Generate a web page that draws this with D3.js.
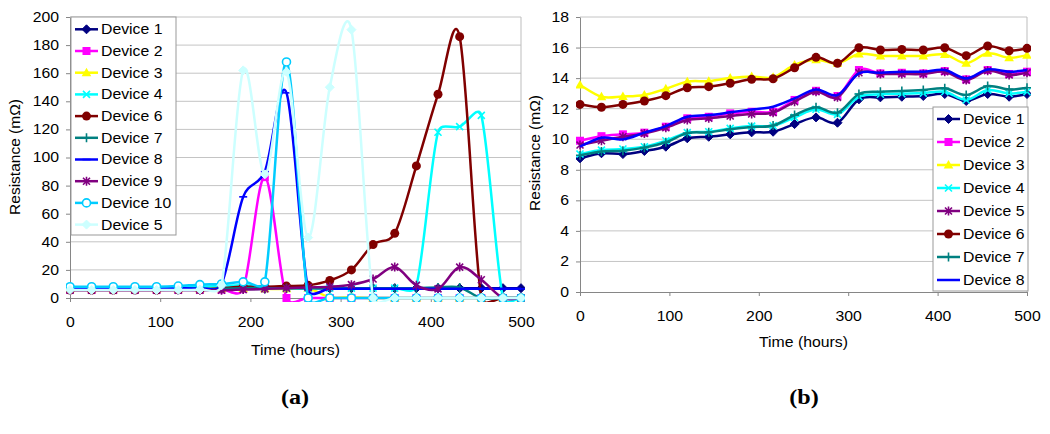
<!DOCTYPE html>
<html>
<head>
<meta charset="utf-8">
<script src="https://cdn.jsdelivr.net/npm/d3@7"></script>
<style>
  html, body { margin: 0; padding: 0; background: #fff; }
  svg { display: block; font-family: 'Liberation Sans', Arial, sans-serif; }
</style>
</head>
<body>
<script>
// sample times (hours), shared by both panels
const hours = [0, 24, 48, 72, 96, 120, 144, 168, 192, 216, 240, 264, 288, 312, 336, 360, 384, 408, 432, 456, 480, 500];

// panel (a) series, in legend order
const namesA = ['Device 1', 'Device 2', 'Device 3', 'Device 4', 'Device 6', 'Device 7', 'Device 8', 'Device 9', 'Device 10', 'Device 5'];
const a1 = [6, 6, 6, 6, 6, 6, 6, 6.5, 6.5, 6.5, 7, 7, 7, 7, 7, 7, 7, 7, 7, 7, 7, 7];
const a2 = [6, 6, 6, 6, 6, 6, 6, 6, 6.5, 86, 0, 0, 0, 0, 0, 0, 0, 0, 0, 0, 0, 0];
const a3 = [6.5, 6.5, 6.5, 6.5, 6.5, 6.5, 6.5, 6.5, 6.5, 6.5, 6.5, 7, 0.5, 0.5, 0, 0, 0, 0, 0, 0, 0, 0];
const a4 = [7, 7, 7, 7, 7, 7.5, 8, 8.5, 9, 8, 7, 7, 7, 7, 7, 7, 9, 118, 122, 130, 0, 0];
const a6 = [5.7, 5.7, 5.7, 5.7, 5.7, 5.8, 6, 7, 8, 8, 8.5, 9, 12.5, 20, 38, 46, 94, 145, 186, 0, 0, 0];
const a7 = [6.5, 6.5, 6.5, 6.5, 6.5, 6.5, 6.5, 6.5, 7, 7, 7, 7, 7, 7, 7, 7, 7, 7.5, 7.5, 0, 0, 0];
const a8 = [7, 7, 7, 7, 7, 7, 7, 10, 72, 90, 146, 6, 6.5, 6.5, 6.5, 6.5, 6.5, 6.5, 6.5, 6.5, 6.5, 6.5];
const a9 = [5.5, 5.5, 5.5, 5.5, 5.5, 5.5, 5.5, 5.5, 6, 6.5, 7, 7.5, 8, 9.5, 13.5, 22, 9, 6.5, 22, 13, 0, 0];
const a10 = [8, 8, 8, 8, 8, 8.5, 9.5, 10, 11.5, 11.5, 168, 0, 0, 0, 0, 0, 0, 0, 0, 0, 0, 0];
const a5 = [5.7, 5.7, 5.7, 5.7, 5.7, 5.7, 6, 9, 162, 88, 161, 43, 150, 191, 0, 0, 0, 0, 0, 0, 0, 0];
const valuesA = [a1, a2, a3, a4, a6, a7, a8, a9, a10, a5];
const ticksYA = [0, 20, 40, 60, 80, 100, 120, 140, 160, 180, 200];

// panel (b) series
const namesB = ['Device 1', 'Device 2', 'Device 3', 'Device 4', 'Device 5', 'Device 6', 'Device 7', 'Device 8'];
const b1 = [8.75, 9.08, 9.03, 9.23, 9.51, 10.06, 10.16, 10.32, 10.45, 10.49, 10.99, 11.43, 11.08, 12.61, 12.74, 12.78, 12.83, 12.96, 12.5, 12.96, 12.78, 12.96];
const b2 = [9.9, 10.2, 10.32, 10.43, 10.82, 11.37, 11.47, 11.69, 11.8, 11.8, 12.57, 13.17, 12.83, 14.53, 14.31, 14.35, 14.31, 14.46, 13.92, 14.53, 14.27, 14.42];
const b3 = [13.55, 12.78, 12.8, 12.9, 13.3, 13.77, 13.8, 14.0, 14.1, 14.05, 14.86, 15.2, 14.97, 15.58, 15.45, 15.45, 15.45, 15.55, 14.97, 15.62, 15.33, 15.5];
const b4 = [9.03, 9.29, 9.36, 9.51, 9.9, 10.43, 10.49, 10.71, 10.86, 10.88, 11.43, 11.96, 11.63, 12.78, 12.94, 12.98, 13.02, 13.11, 12.57, 13.22, 13.0, 13.11];
const b5 = [9.62, 9.9, 10.16, 10.38, 10.75, 11.26, 11.37, 11.52, 11.65, 11.74, 12.45, 13.11, 12.74, 14.35, 14.27, 14.27, 14.27, 14.42, 13.87, 14.48, 14.2, 14.35];
const b6 = [12.28, 12.09, 12.28, 12.5, 12.85, 13.37, 13.44, 13.66, 13.92, 13.96, 14.68, 15.36, 14.97, 15.99, 15.84, 15.88, 15.84, 15.99, 15.47, 16.1, 15.79, 15.95];
const b7 = [8.95, 9.2, 9.25, 9.45, 9.8, 10.4, 10.45, 10.65, 10.8, 10.9, 11.58, 12.09, 11.74, 12.96, 13.11, 13.15, 13.22, 13.33, 12.89, 13.48, 13.26, 13.37];
const b8 = [9.51, 10.1, 9.99, 10.43, 10.86, 11.47, 11.58, 11.76, 11.95, 12.13, 12.67, 13.26, 12.89, 14.31, 14.35, 14.42, 14.42, 14.53, 13.98, 14.57, 14.42, 14.53];
const valuesB = [b1, b2, b3, b4, b5, b6, b7, b8];
const ticksYB = [0, 2, 4, 6, 8, 10, 12, 14, 16, 18];

const ticksX = [0, 100, 200, 300, 400, 500];

// line colour and marker per legend name, per panel
const styleA = {
  'Device 1': ['#000080', 'diamond'],
  'Device 2': ['#ff00ff', 'square'],
  'Device 3': ['#ffff00', 'triangle'],
  'Device 4': ['#00ffff', 'cross'],
  'Device 6': ['#800000', 'circle'],
  'Device 7': ['#008080', 'plus'],
  'Device 8': ['#0000ff', 'dash'],
  'Device 9': ['#800080', 'star'],
  'Device 10': ['#00ccff', 'ring'],
  'Device 5': ['#ccffff', 'diamond']
};
const styleB = {
  'Device 1': ['#000080', 'diamond'],
  'Device 2': ['#ff00ff', 'square'],
  'Device 3': ['#ffff00', 'triangle'],
  'Device 4': ['#00ffff', 'cross'],
  'Device 5': ['#800080', 'star'],
  'Device 6': ['#800000', 'circle'],
  'Device 7': ['#008080', 'plus'],
  'Device 8': ['#0000ff', 'none']
};

const stretch = 1.13;
const svg = d3.select('body').append('svg').attr('width', 1050).attr('height', 434);

// spreadsheet-style smoothed line: bezier arms of 1/6 of the neighbour chord,
// capped at half the current segment
function smoothPath(pts) {
  const p = d3.path();
  const dist = (a, b) => Math.hypot(b[0] - a[0], b[1] - a[1]);
  p.moveTo(pts[0][0], pts[0][1]);
  for (let i = 0; i < pts.length - 1; i++) {
    const p0 = pts[i - 1] || pts[i];
    const p1 = pts[i];
    const p2 = pts[i + 1];
    const p3 = pts[i + 2] || pts[i + 1];
    const d02 = dist(p0, p2), d12 = dist(p1, p2), d13 = dist(p1, p3);
    const f1 = d02 === 0 ? 0 : (d02 / 6 < d12 / 2 ? 1 / 6 : d12 / (2 * d02));
    const f2 = d13 === 0 ? 0 : (d13 / 6 < d12 / 2 ? 1 / 6 : d12 / (2 * d13));
    p.bezierCurveTo(
      p1[0] + (p2[0] - p0[0]) * f1, p1[1] + (p2[1] - p0[1]) * f1,
      p2[0] - (p3[0] - p1[0]) * f2, p2[1] - (p3[1] - p1[1]) * f2,
      p2[0], p2[1]
    );
  }
  return p.toString();
}

function drawMarker(g, type, color) {
  if (type === 'diamond') {
    g.append('path').attr('d', 'M0,-4.5L4.5,0L0,4.5L-4.5,0Z').attr('fill', color).attr('stroke', color);
  } else if (type === 'square') {
    g.append('rect').attr('x', -4).attr('y', -4).attr('width', 8).attr('height', 8).attr('fill', color);
  } else if (type === 'triangle') {
    g.append('path').attr('d', 'M0,-5L4.8,3.5L-4.8,3.5Z').attr('fill', color);
  } else if (type === 'circle') {
    g.append('circle').attr('r', 4.5).attr('fill', color);
  } else if (type === 'ring') {
    g.append('circle').attr('r', 4).attr('fill', '#fff').attr('stroke', color).attr('stroke-width', 1.6);
  } else if (type === 'cross' || type === 'star' || type === 'plus' || type === 'dash') {
    let d = '';
    if (type === 'cross' || type === 'star') d += 'M-3.5,-3.5L3.5,3.5M-3.5,3.5L3.5,-3.5';
    if (type === 'star') d += 'M0,-4.5L0,4.5';
    if (type === 'plus') d += 'M-4.5,0L4.5,0M0,-4.5L0,4.5';
    if (type === 'dash') d += 'M-4,0L4,0';
    g.append('path').attr('d', d).attr('fill', 'none').attr('stroke', color).attr('stroke-width', 1.6);
  }
}

function stretchedText(parent, x, y, str, size, opts = {}) {
  return parent.append('text')
    .attr('transform', `translate(${x},${y}) scale(${opts.sx || stretch},1)`)
    .attr('text-anchor', opts.anchor || 'start')
    .attr('dy', '0.35em')
    .attr('font-size', size)
    .attr('font-weight', opts.weight || 'normal')
    .attr('font-family', opts.family || null)
    .attr('fill', '#000')
    .text(str);
}

function drawPanel(cfg) {
  const x = d3.scaleLinear().domain([0, 500]).range([cfg.x0, cfg.x1]);
  const y = d3.scaleLinear().domain([0, cfg.yMax]).range([cfg.y1, cfg.y0]);
  const g = svg.append('g');

  // gridlines
  g.selectAll('.grid')
    .data(cfg.yTicks.slice(1))
    .enter()
    .append('line')
    .attr('x1', cfg.x0).attr('x2', cfg.x1)
    .attr('y1', d => y(d)).attr('y2', d => y(d))
    .attr('stroke', '#c4c4c4').attr('stroke-width', 1);

  g.append('line')
    .attr('x1', cfg.x1).attr('x2', cfg.x1)
    .attr('y1', cfg.y0).attr('y2', cfg.y1)
    .attr('stroke', '#bdbdbd');

  const yAxis = g.append('g')
    .attr('transform', `translate(${cfg.x0},0)`)
    .call(d3.axisLeft(y).tickValues(cfg.yTicks).tickSize(4).tickSizeOuter(0));
  const xAxis = g.append('g')
    .attr('transform', `translate(0,${cfg.y1})`)
    .call(d3.axisBottom(x).tickValues(ticksX).tickSize(4).tickSizeOuter(0).tickPadding(15));
  [yAxis, xAxis].forEach(ax => {
    ax.select('.domain').attr('stroke', '#868686');
    ax.selectAll('.tick line').attr('stroke', '#868686');
    ax.selectAll('text')
      .attr('font-size', 14)
      .attr('font-family', "'Liberation Sans', Arial, sans-serif")
      .attr('fill', '#000')
      .attr('transform', `scale(${stretch},1)`);
  });
  yAxis.selectAll('text').attr('x', -11 / stretch);

  // series
  const clipId = 'clip' + cfg.id;
  svg.append('clipPath').attr('id', clipId)
    .append('rect')
    .attr('x', cfg.x0 - 4).attr('y', cfg.y0 - 2)
    .attr('width', cfg.x1 - cfg.x0 + 8).attr('height', cfg.y1 - cfg.y0 + 6);

  const plot = g.append('g').attr('clip-path', `url(#${clipId})`);
  cfg.names.forEach((name, k) => {
    const [color, marker] = cfg.styles[name];
    const vals = cfg.values[k];
    const pts = vals.map((v, i) => [x(hours[i]), y(v)]);
    plot.append('path')
      .attr('d', smoothPath(pts))
      .attr('fill', 'none')
      .attr('stroke', color)
      .attr('stroke-width', 2.5);
    pts.forEach(pt => {
      drawMarker(plot.append('g').attr('transform', `translate(${pt[0]},${pt[1]})`), marker, color);
    });
  });

  // legend
  const lg = g.append('g');
  lg.append('rect')
    .attr('x', cfg.legX).attr('y', cfg.legY)
    .attr('width', cfg.legW).attr('height', cfg.legH)
    .attr('fill', '#fff').attr('stroke', '#999');
  cfg.names.forEach((name, k) => {
    const [color, marker] = cfg.styles[name];
    const cy = cfg.legY + cfg.legFirst + k * cfg.legStep;
    lg.append('line')
      .attr('x1', cfg.legX + 4).attr('x2', cfg.legX + 27)
      .attr('y1', cy).attr('y2', cy)
      .attr('stroke', color).attr('stroke-width', 2.5);
    drawMarker(lg.append('g').attr('transform', `translate(${cfg.legX + 15.5},${cy})`), marker, color);
    stretchedText(lg, cfg.legX + 30, cy, name, 14);
  });

  // titles
  stretchedText(svg, (cfg.x0 + cfg.x1) / 2, cfg.xTitleY, 'Time (hours)', 14, { anchor: 'middle' });
  svg.append('text')
    .attr('transform', `translate(${cfg.yTitleX},${cfg.yTitleY}) rotate(-90)`)
    .attr('text-anchor', 'middle')
    .attr('dy', '0.35em')
    .attr('font-size', 15.5)
    .text('Resistance (m\u03A9)');
  stretchedText(svg, cfg.capX, 397, cfg.caption, 21, {
    anchor: 'middle', weight: 'bold', family: "'Liberation Serif', 'Times New Roman', serif", sx: 1.15
  });
}

drawPanel({
  id: 'a', x0: 70, x1: 521, y0: 17, y1: 298, yMax: 200, yTicks: ticksYA,
  names: namesA, values: valuesA, styles: styleA,
  legX: 71, legY: 17, legW: 105, legH: 218, legFirst: 12.3, legStep: 21.7,
  xTitleY: 350, yTitleX: 15, yTitleY: 157, capX: 295, caption: '(a)'
});

drawPanel({
  id: 'b', x0: 580, x1: 1027, y0: 17, y1: 292, yMax: 18, yTicks: ticksYB,
  names: namesB, values: valuesB, styles: styleB,
  legX: 933, legY: 107, legW: 95, legH: 184, legFirst: 12, legStep: 23,
  xTitleY: 342, yTitleX: 535, yTitleY: 153, capX: 804, caption: '(b)'
});
</script>
</body>
</html>
